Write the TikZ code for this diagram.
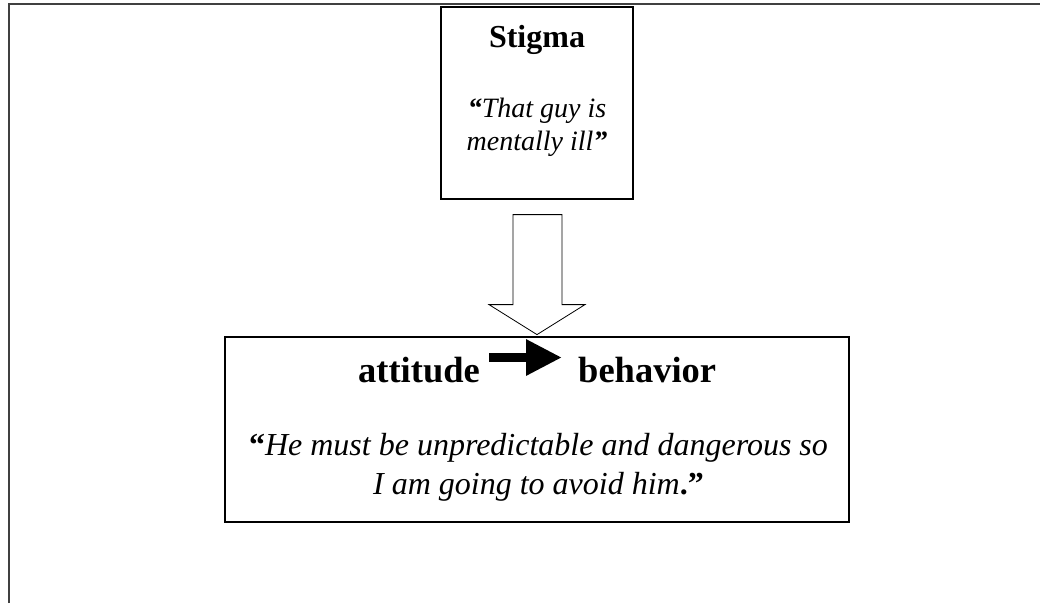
\documentclass[tikz,border=0pt]{standalone}
\usepackage{fontspec}
\setmainfont{Liberation Serif}
\usetikzlibrary{arrows.meta,calc}

\begin{document}
\begin{tikzpicture}[x=1pt, y=-1pt,
    box/.style={draw, line width=1.2pt, inner sep=0pt},
    headtext/.style={font=\fontsize{#1}{#1}\selectfont\bfseries, inner sep=0pt, anchor=base},
    quotetext/.style={font=\fontsize{#1}{#1}\selectfont\itshape, inner sep=0pt, anchor=base},
    hollow/.style={draw, line width=0.8pt, fill=white},
    fatarrow/.style={line width=9pt, -{Triangle[length=36pt, width=34pt]}}]
      \useasboundingbox (0,0) rectangle (1040,603);
      \draw[line width=1.6pt, color=darkgray] (9,603) -- (9,4) -- (1040,4);

      \node[box, minimum width=192pt, minimum height=192pt] (stigma) at (537,103) {};
      \node[headtext=32] (stigmatitle) at (537,47) {Stigma};
      \node[quotetext=28] (stigmaline1) at (537,117) {{\bfseries “}That guy is};
      \node[quotetext=28] (stigmaline2) at (537,150) {mentally ill{\bfseries ”}};

      \node[box, minimum width=624pt, minimum height=185pt] (mainbox) at (537,429.5) {};
      \node[headtext=36.5, anchor=base east] (attitude) at (480,382) {attitude};
      \node[headtext=36.5, anchor=base west] (behavior) at (578,382) {behavior};
      \node[quotetext=32] (mainline1) at (538.5,455) {{\upshape\bfseries “}He must be unpredictable and dangerous so};
      \node[quotetext=32] (mainline2) at (538.5,494) {I am going to avoid him{\upshape\bfseries .”}};

      \draw[fatarrow] ($(attitude.base east)+(9,-24.5)$) -- ($(behavior.base west)+(-16,-24.5)$);

      \coordinate (tip) at ($(stigma.south)+(0,135)$);
      \draw[hollow] (tip) -- ++(-48,-30) -- ++(24,0) -- ++(0,-90) -- ++(49,0) -- ++(0,90) -- ++(23,0) -- cycle;
    \end{tikzpicture}
\end{document}
